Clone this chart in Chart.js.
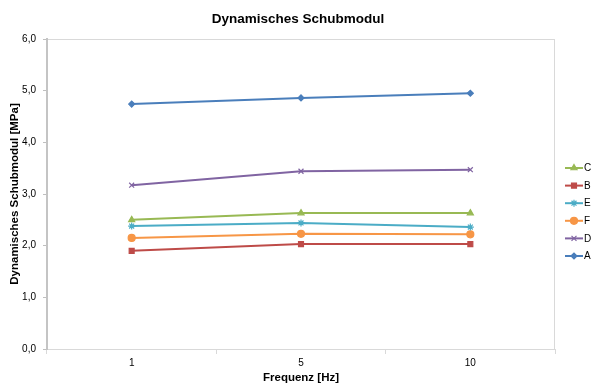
<!DOCTYPE html>
<html>
<head>
<meta charset="utf-8">
<script src="https://cdn.jsdelivr.net/npm/chart.js@4/dist/chart.umd.min.js"></script>
<style>
  html, body { margin: 0; padding: 0; background: #fff; }
  #wrap { width: 592px; height: 385px; }
</style>
</head>
<body>
<div id="wrap"><canvas id="c" width="592" height="385"></canvas></div>
<script>
// Frequencies (x categories) and measured dynamic shear modulus per sample
const frequencies = ['1', '5', '10'];
const seriesC = [2.50, 2.63, 2.63];
const seriesB = [1.90, 2.03, 2.03];
const seriesE = [2.38, 2.44, 2.36];
const seriesF = [2.15, 2.23, 2.22];
const seriesD = [3.17, 3.44, 3.47];
const seriesA = [4.74, 4.86, 4.95];
const yTicks = [0, 1, 2, 3, 4, 5, 6];

const FONT = "'Liberation Sans', Arial, sans-serif";

const series = [
  { label: 'C', data: seriesC, color: '#98B954', marker: 'triangle', r: 3.5 },
  { label: 'B', data: seriesB, color: '#BE4B48', marker: 'rect', r: 3.5 },
  { label: 'E', data: seriesE, color: '#4BACC6', marker: 'star', r: 3.5 },
  { label: 'F', data: seriesF, color: '#F79646', marker: 'circle', r: 3.5 },
  { label: 'D', data: seriesD, color: '#8064A2', marker: 'crossRot', r: 3.5 },
  { label: 'A', data: seriesA, color: '#4A7EBB', marker: 'rectRot', r: 3 }
];

// Center the title over the whole canvas rather than the padded layout box
const titleSpan = {
  id: 'titleSpan',
  afterLayout(chart) {
    if (chart.titleBlock) {
      chart.titleBlock.left = 4;
      chart.titleBlock.right = chart.width;
    }
  }
};

// Plot-area frame (top / right edges) drawn behind the axes
const frameBox = {
  id: 'frameBox',
  beforeDraw(chart) {
    const { ctx, chartArea: a } = chart;
    ctx.save();
    ctx.strokeStyle = '#d9d9d9';
    ctx.lineWidth = 1;
    ctx.strokeRect(a.left + 0.5, a.top + 0.5, a.right - a.left - 1, a.bottom - a.top);
    ctx.restore();
  }
};

// Legend on the right: line sample with marker, then the label
const sideLegend = {
  id: 'sideLegend',
  afterDraw(chart) {
    const { ctx } = chart;
    const x0 = 565, x1 = 583, step = 17.6;
    const y0 = 168;
    ctx.save();
    chart.data.datasets.forEach((ds, i) => {
      const y = y0 + i * step;
      ctx.strokeStyle = ds.borderColor;
      ctx.lineWidth = 2;
      ctx.beginPath();
      ctx.moveTo(x0, y);
      ctx.lineTo(x1, y);
      ctx.stroke();
      ctx.fillStyle = ds.borderColor;
      ctx.strokeStyle = ds.borderColor;
      ctx.lineWidth = 1.2;
      Chart.helpers.drawPoint(ctx, {
        pointStyle: ds.pointStyle, radius: ds.pointRadius, borderWidth: 1.2, rotation: 0
      }, (x0 + x1) / 2, y);
      ctx.fillStyle = '#000';
      ctx.font = '10px ' + FONT;
      ctx.textAlign = 'left';
      ctx.textBaseline = 'middle';
      ctx.fillText(ds.label, x1 + 1, y + 0.5);
    });
    ctx.restore();
  }
};

new Chart(document.getElementById('c'), {
  type: 'line',
  data: {
    labels: frequencies,
    datasets: series.map(s => ({
      label: s.label,
      data: s.data,
      borderColor: s.color,
      backgroundColor: s.color,
      borderWidth: 2,
      pointStyle: s.marker,
      pointRadius: s.r,
      pointBorderWidth: 1.2,
      pointHoverRadius: s.r,
      tension: 0
    }))
  },
  options: {
    responsive: false,
    animation: false,
    layout: { padding: { left: 0, right: 37, top: 0, bottom: 0 } },
    plugins: {
      legend: { display: false },
      tooltip: { enabled: false },
      title: {
        display: true,
        text: 'Dynamisches Schubmodul',
        color: '#000',
        font: { family: FONT, size: 13.5, weight: 'bold' },
        padding: { top: 11, bottom: 11.8 }
      }
    },
    scales: {
      x: {
        type: 'category',
        offset: true,
        grid: { offset: true, drawOnChartArea: false, tickLength: 5, color: '#d9d9d9' },
        border: { color: '#d9d9d9', width: 1 },
        ticks: { color: '#000', font: { family: FONT, size: 10 }, padding: 3, maxRotation: 0 },
        title: {
          display: true,
          text: 'Frequenz [Hz]',
          color: '#000',
          font: { family: FONT, size: 11.5, weight: 'bold' },
          padding: { top: 0, bottom: 0 }
        },
        afterFit(scale) { scale.height = 36; }
      },
      y: {
        min: 0,
        max: 6,
        afterBuildTicks(scale) { scale.ticks = yTicks.map(v => ({ value: v })); },
        grid: { drawOnChartArea: false, tickLength: 4, color: '#bfbfbf' },
        border: { color: '#c4c4c4', width: 2 },
        ticks: {
          color: '#000',
          font: { family: FONT, size: 10 },
          padding: 7,
          callback: v => v.toFixed(1).replace('.', ',')
        },
        title: {
          display: true,
          text: 'Dynamisches Schubmodul [MPa]',
          color: '#000',
          font: { family: FONT, size: 11.5, weight: 'bold' },
          padding: { top: 8, bottom: 0 }
        },
        afterFit(scale) { scale.width = 47; }
      }
    }
  },
  plugins: [titleSpan, frameBox, sideLegend]
});
</script>
</body>
</html>
